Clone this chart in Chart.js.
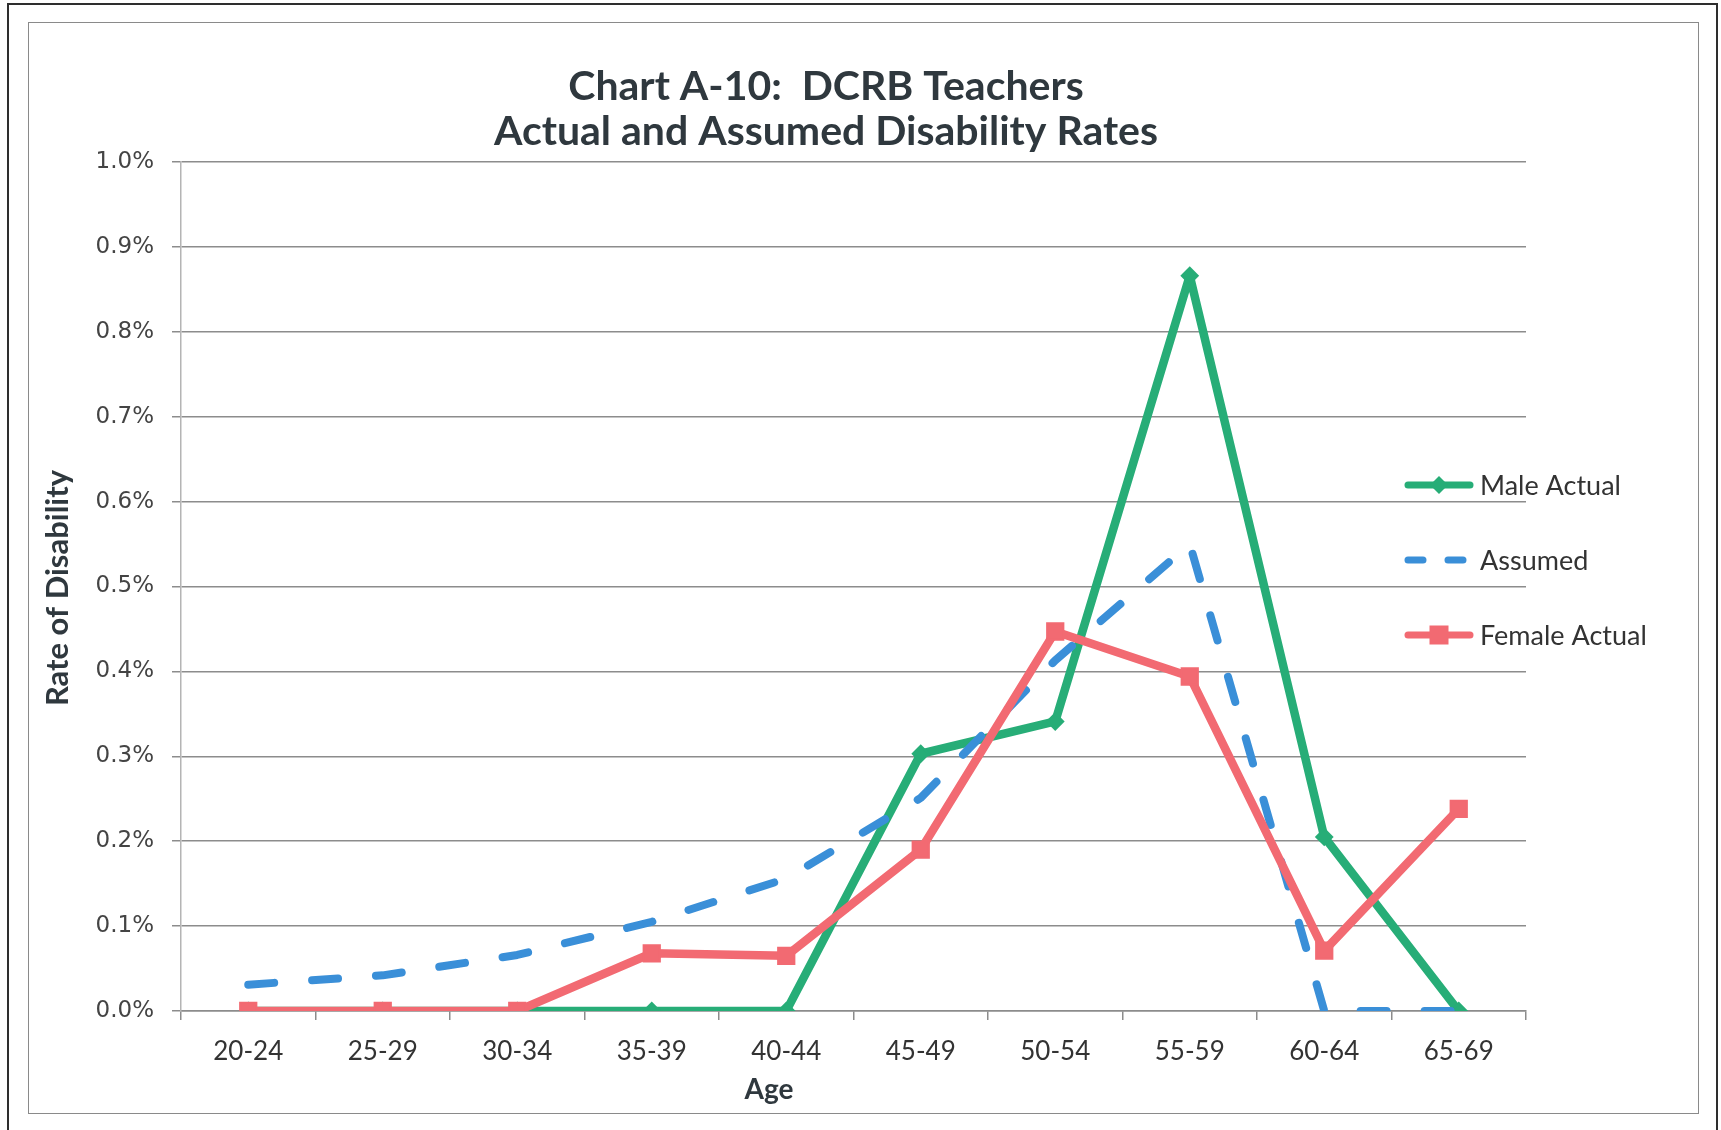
<!DOCTYPE html>
<html>
<head>
<meta charset="utf-8">
<script src="https://cdn.jsdelivr.net/npm/chart.js@4.4.0/dist/chart.umd.min.js"></script>
<style>
html,body{margin:0;padding:0;background:#fff;}
#wrap{position:relative;width:1721px;height:1130px;overflow:hidden;background:#fff;}
#c{position:absolute;left:0;top:0;}
.outer{position:absolute;left:7px;top:3px;width:1711px;height:1140px;border:2px solid #2e2e2e;border-bottom:none;box-sizing:border-box;pointer-events:none;}
.inner{position:absolute;left:28px;top:22px;width:1671px;height:1092px;border:1.5px solid #8a8a8a;box-sizing:border-box;pointer-events:none;}
</style>
</head>
<body>
<div id="wrap">
  <canvas id="c" width="1721" height="1130"></canvas>
  <div class="outer"></div>
  <div class="inner"></div>
</div>
<script>
// ---- data (rates in percent) ----
const categories = ['20-24','25-29','30-34','35-39','40-44','45-49','50-54','55-59','60-64','65-69'];
const maleActual   = [0, 0, 0, 0, 0, 0.303, 0.341, 0.866, 0.205, 0];
const assumed      = [0.031, 0.042, 0.066, 0.105, 0.156, 0.251, 0.413, 0.550, 0, 0];
const femaleActual = [0, 0, 0, 0.068, 0.065, 0.190, 0.447, 0.394, 0.071, 0.238];
const seriesNames  = ['Male Actual', 'Assumed', 'Female Actual'];
const titleLines   = ['Chart A-10:  DCRB Teachers', 'Actual and Assumed Disability Rates'];
const xTitle = 'Age';
const yTitle = 'Rate of Disability';
const yMin = 0, yMax = 1.0, yStep = 0.1;

const GREEN = '#27ad77', BLUE = '#3a8fd8', RED = '#f26a72';

const deco = {
  id: 'deco',
  afterDraw(chart) {
    const ctx = chart.ctx;
    ctx.save();
    // chart title
    ctx.fillStyle = '#2f383e';
    ctx.textAlign = 'center';
    ctx.textBaseline = 'alphabetic';
    ctx.font = 'bold 41px Lato';
    ctx.fillText(titleLines[0], 826, 100);
    ctx.fillText(titleLines[1], 826, 145);
    // axis titles
    ctx.font = 'bold 28px Lato';
    ctx.textBaseline = 'middle';
    ctx.fillText(xTitle, 769, 1090);
    ctx.save();
    ctx.translate(58, 588);
    ctx.rotate(-Math.PI / 2);
    ctx.font = 'bold 31px Lato';
    ctx.fillText(yTitle, 0, 0);
    ctx.restore();
    // legend
    const ds = chart.data.datasets;
    const lx0 = 1408, lx1 = 1470, mx = 1439, tx = 1480;
    ds.forEach((d, i) => {
      const y = 485 + i * 75;
      ctx.save();
      ctx.strokeStyle = d.borderColor;
      ctx.lineWidth = 7;
      ctx.lineCap = 'round';
      if (d.borderDash && d.borderDash.length) ctx.setLineDash([15, 25]);
      ctx.beginPath(); ctx.moveTo(lx0, y); ctx.lineTo(lx1, y); ctx.stroke();
      ctx.setLineDash([]);
      ctx.fillStyle = d.borderColor;
      if (d.pointStyle === 'rectRot') {
        const r = 9;
        ctx.beginPath(); ctx.moveTo(mx - r, y); ctx.lineTo(mx, y - r); ctx.lineTo(mx + r, y); ctx.lineTo(mx, y + r); ctx.closePath(); ctx.fill();
      } else if (d.pointStyle === 'rect') {
        const s = 9.5;
        ctx.fillRect(mx - s, y - s, 2 * s, 2 * s);
      }
      ctx.restore();
      ctx.fillStyle = '#333';
      ctx.font = '27px Lato';
      ctx.textAlign = 'left';
      ctx.textBaseline = 'middle';
      ctx.fillText(d.label, tx, y + 1);
    });
    ctx.restore();
  }
};

new Chart(document.getElementById('c'), {
  type: 'line',
  data: {
    labels: categories,
    datasets: [
      { label: seriesNames[0], data: maleActual, borderColor: GREEN, backgroundColor: GREEN,
        borderWidth: 8.5, pointStyle: 'rectRot', pointRadius: 8, pointBorderWidth: 2,
        pointBackgroundColor: GREEN, pointBorderColor: GREEN, borderJoinStyle: 'round', order: 3 },
      { label: seriesNames[1], data: assumed, borderColor: BLUE, backgroundColor: BLUE,
        borderWidth: 8, borderDash: [26, 38], borderCapStyle: 'round', pointRadius: 0,
        pointStyle: false, borderJoinStyle: 'round', order: 2 },
      { label: seriesNames[2], data: femaleActual, borderColor: RED, backgroundColor: RED,
        borderWidth: 8.5, pointStyle: 'rect', pointRadius: 11.5, pointBorderWidth: 2,
        pointBackgroundColor: RED, pointBorderColor: RED, borderJoinStyle: 'round', order: 1 }
    ]
  },
  options: {
    responsive: false,
    animation: false,
    devicePixelRatio: 1,
    layout: { padding: { top: 162, right: 195, bottom: 0, left: 0 } },
    plugins: { legend: { display: false }, title: { display: false }, tooltip: { enabled: false } },
    scales: {
      x: {
        type: 'category',
        offset: true,
        grid: { offset: true, drawOnChartArea: false, drawTicks: true, tickLength: 9, color: '#8c8c8c', lineWidth: 1.5 },
        border: { display: true, color: '#8c8c8c', width: 1.5 },
        ticks: { font: { family: 'Lato', size: 26 }, color: '#333', padding: 16, maxRotation: 0, autoSkip: false },
        afterFit(s) { s.height = 119; }
      },
      y: {
        min: yMin, max: yMax,
        ticks: { stepSize: yStep, callback: v => v.toFixed(1) + '%', font: { family: 'DejaVu Sans', size: 23 }, color: '#444', padding: 18 },
        grid: { color: '#8c8c8c', lineWidth: 1.5, tickLength: 9, drawTicks: true },
        border: { display: true, color: '#b4b4b4', width: 1.5 },
        afterFit(s) { s.width = 181; }
      }
    }
  },
  plugins: [deco]
});
</script>
</body>
</html>
